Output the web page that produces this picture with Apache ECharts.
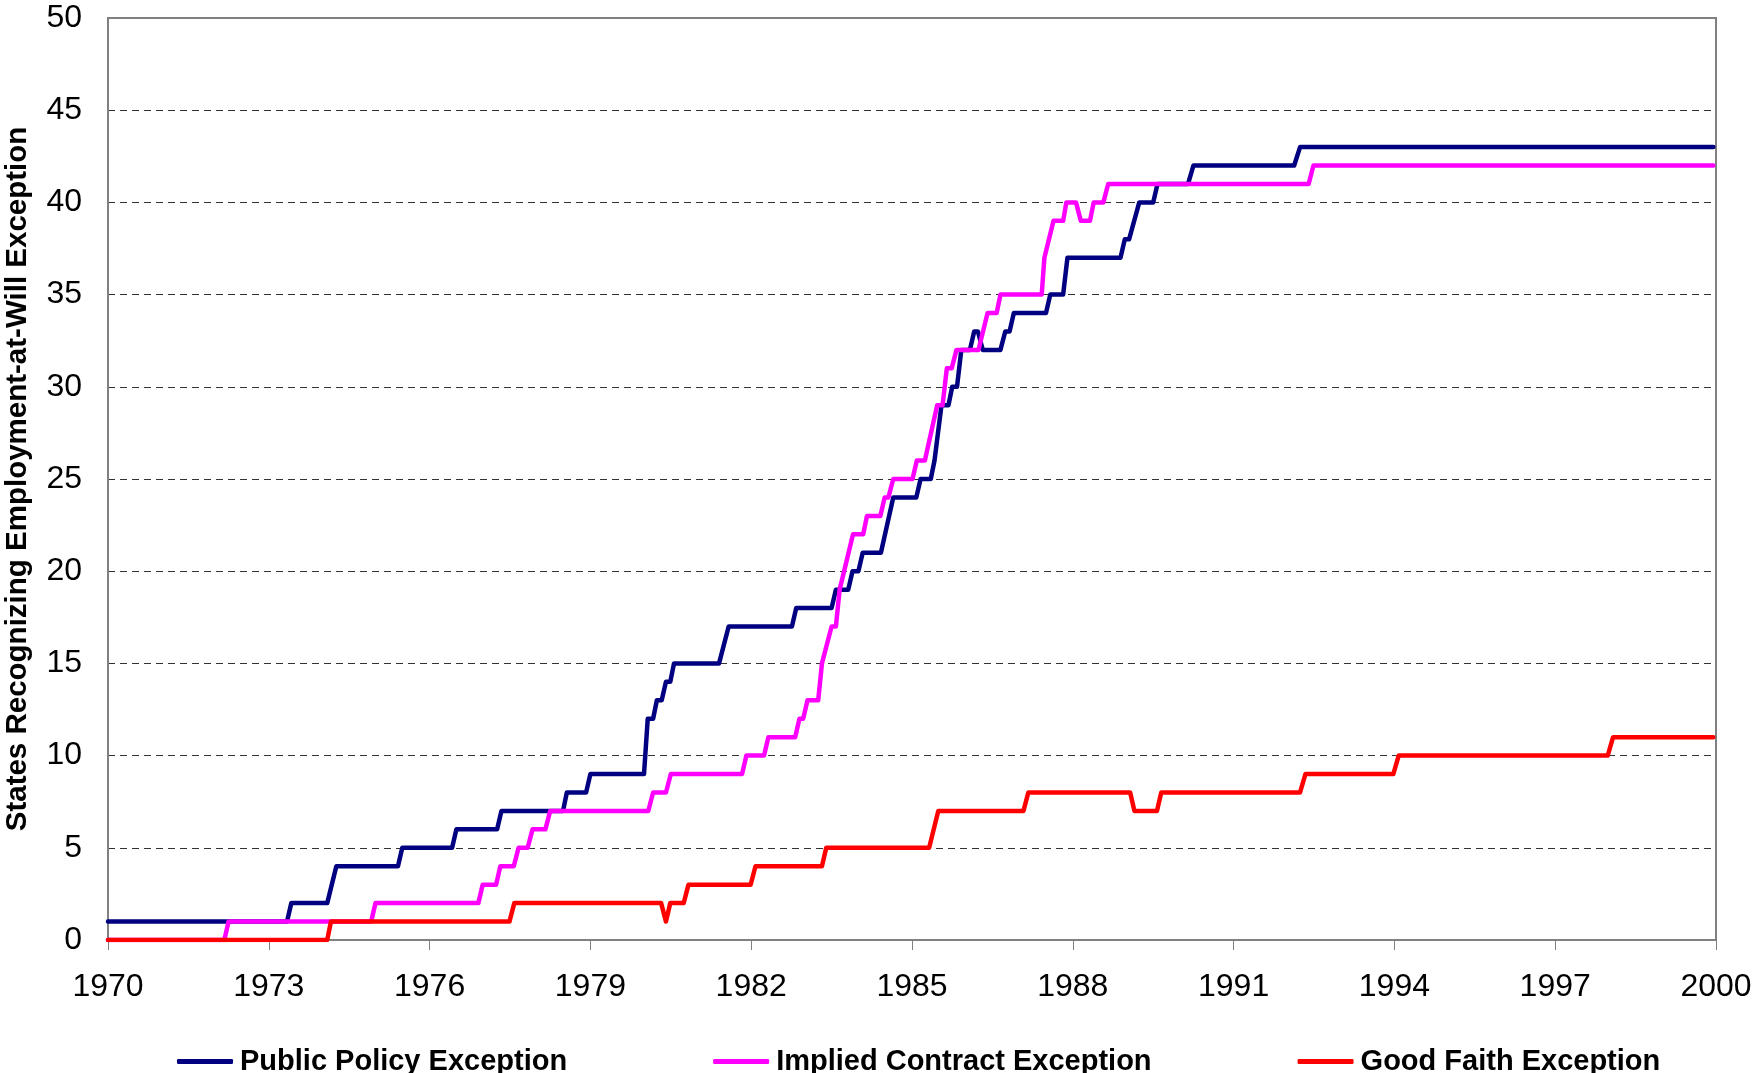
<!DOCTYPE html>
<html>
<head>
<meta charset="utf-8">
<script src="https://cdn.jsdelivr.net/npm/echarts@6/dist/echarts.min.js"></script>
<style>
html,body{margin:0;padding:0;background:#fff;}
#chart{width:1753px;height:1073px;}
</style>
</head>
<body>
<div id="chart"></div>
<script>
// Series names
var seriesNames = ['Public Policy Exception', 'Implied Contract Exception', 'Good Faith Exception'];

// X tick labels (years)
var xTickLabels = ['1970','1973','1976','1979','1982','1985','1988','1991','1994','1997','2000'];
var baseYear = 1970;

// Public Policy Exception: vertices (decimal year, number of states)
var ppYears = [1970.00,1973.34,1973.42,1974.09,1974.26,1975.41,1975.49,1976.42,1976.50,1977.26,1977.34,
  1978.49,1978.56,1978.92,1979.00,1980.00,1980.07,1980.17,1980.24,1980.33,1980.41,1980.49,1980.56,
  1981.40,1981.58,1982.76,1982.84,1983.50,1983.58,1983.81,1983.89,1984.00,1984.08,1984.42,1984.65,
  1985.08,1985.16,1985.35,1985.42,1985.55,1985.68,1985.75,1985.84,1985.92,1986.08,1986.16,1986.23,
  1986.32,1986.65,1986.74,1986.82,1986.90,1987.50,1987.58,1987.82,1987.90,1988.89,1988.97,1989.05,
  1989.24,1989.50,1989.58,1990.15,1990.25,1992.13,1992.24,1999.95];
var ppValues = [1,1,2,2,4,4,5,5,6,6,7,
  7,8,8,9,9,12,12,13,13,14,14,15,
  15,17,17,18,18,19,19,20,20,21,21,24,
  24,25,25,26,29,29,30,30,32,32,33,33,
  32,32,33,33,34,34,35,35,37,37,38,38,
  40,40,41,41,42,42,43,43];

// Implied Contract Exception
var icYears = [1970.00,1972.17,1972.25,1974.91,1974.99,1976.91,1976.99,1977.24,1977.32,1977.57,1977.66,
  1977.83,1977.92,1978.16,1978.25,1980.08,1980.17,1980.41,1980.50,1981.83,1981.91,1982.24,1982.32,
  1982.82,1982.90,1982.97,1983.05,1983.25,1983.32,1983.50,1983.58,1983.65,1983.90,1984.09,1984.16,
  1984.41,1984.49,1984.56,1984.65,1985.01,1985.09,1985.24,1985.47,1985.57,1985.65,1985.74,1985.83,
  1986.24,1986.41,1986.58,1986.65,1987.42,1987.47,1987.64,1987.82,1987.88,1988.06,1988.15,1988.32,
  1988.39,1988.57,1988.66,1992.40,1992.49,1999.95];
var icValues = [0,0,1,1,2,2,3,3,4,4,5,
  5,6,6,7,7,8,8,9,9,10,10,11,
  11,12,12,13,13,15,17,17,19,22,22,23,
  23,24,24,25,25,26,26,29,29,31,31,32,
  32,34,34,35,35,37,39,39,40,40,39,39,
  40,40,41,41,42,42];

// Good Faith Exception
var gfYears = [1970.00,1974.09,1974.16,1977.49,1977.58,1980.32,1980.41,1980.49,1980.74,1980.83,1981.99,
  1982.08,1983.32,1983.40,1985.32,1985.49,1987.08,1987.17,1989.07,1989.15,1989.57,1989.65,1992.24,
  1992.34,1993.98,1994.08,1997.98,1998.08,1999.95];
var gfValues = [0,0,1,1,2,2,1,2,2,3,3,
  4,4,5,5,7,7,8,8,7,7,8,8,
  9,9,10,10,11,11];

var colors = ['#000080', '#FF00FF', '#FF0000'];

function toPairs(years, values) {
  var out = [];
  for (var i = 0; i < years.length; i++) out.push([years[i] - baseYear, values[i]]);
  return out;
}

var FONT = 'Arial, "Liberation Sans", sans-serif';

var chart = echarts.init(document.getElementById('chart'), null, {renderer: 'canvas'});

function mkSeries(idx, years, values) {
  return {
    name: seriesNames[idx],
    type: 'line',
    data: toPairs(years, values),
    showSymbol: false,
    symbol: 'none',
    animation: false,
    lineStyle: {color: colors[idx], width: 4.5, cap: 'round', join: 'round'},
    itemStyle: {color: colors[idx]},
    z: 2 + idx
  };
}

chart.setOption({
  animation: false,
  backgroundColor: '#fff',
  grid: {
    left: 108, right: 37, top: 18, bottom: 133,
    containLabel: false,
    outerBoundsMode: 'none',
    show: true, borderColor: '#808080', borderWidth: 2, backgroundColor: 'transparent'
  },
  legend: {
    data: seriesNames,
    left: 172,
    top: 1042,
    orient: 'horizontal',
    itemWidth: 56,
    itemHeight: 5,
    itemGap: 146,
    icon: 'roundRect',
    textStyle: {fontFamily: FONT, fontSize: 29, fontWeight: 'bold', color: '#000', padding: [0,0,0,2]}
  },
  xAxis: {
    type: 'value',
    min: 0, max: 30, interval: 3,
    axisLine: {show: true, lineStyle: {color: '#808080', width: 2}},
    axisTick: {show: true, length: 10, lineStyle: {color: '#808080', width: 1}},
    splitLine: {show: false},
    axisLabel: {
      fontFamily: FONT, fontSize: 32, color: '#000', margin: 31,
      formatter: function (v) { return xTickLabels[Math.round(v / 3)]; }
    }
  },
  yAxis: {
    type: 'value',
    min: 0, max: 50, interval: 5,
    name: 'States Recognizing Employment-at-Will Exception',
    nameLocation: 'middle',
    nameRotate: 90,
    nameGap: 75,
    nameTextStyle: {fontFamily: FONT, fontSize: 29.5, fontWeight: 'bold', color: '#000'},
    axisLine: {show: true, lineStyle: {color: '#808080', width: 2}},
    axisTick: {show: false},
    splitLine: {show: true, showMinLine: false, showMaxLine: false,
      lineStyle: {color: '#333', width: 1, type: [7, 5]}},
    axisLabel: {fontFamily: FONT, fontSize: 32, color: '#000', margin: 26}
  },
  series: [
    mkSeries(0, ppYears, ppValues),
    mkSeries(1, icYears, icValues),
    mkSeries(2, gfYears, gfValues)
  ]
});
</script>
</body>
</html>
